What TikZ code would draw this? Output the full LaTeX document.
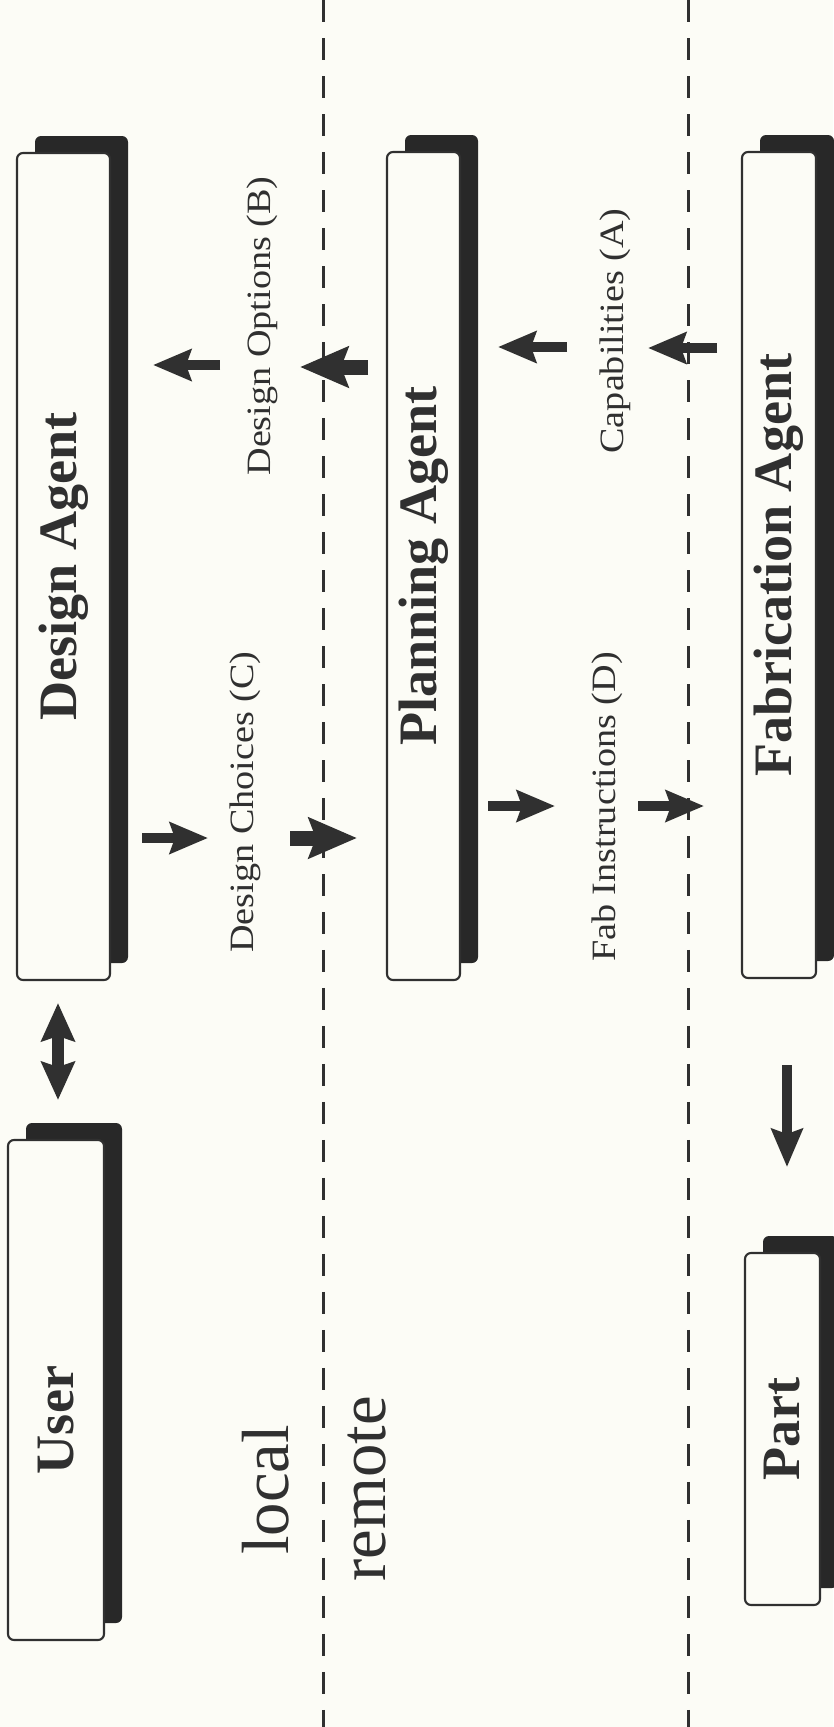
\documentclass[tikz,border=0pt]{standalone}
\usepackage{fontspec}
\usepackage{graphicx}
\setmainfont{Liberation Serif}
\newfontfamily\msgfont[FakeStretch=1.12]{Liberation Serif}
\usetikzlibrary{arrows.meta,shadows}

\definecolor{paper}{RGB}{252,252,246}
\definecolor{ink}{RGB}{48,48,48}
\definecolor{shade}{RGB}{40,40,40}

\begin{document}
\begin{tikzpicture}[x=0.1mm, y=-0.1mm,
    agent/.style={draw=ink, line width=0.6pt, fill=paper, rounded corners=0.6mm,
        drop shadow={shadow xshift=1.8mm, shadow yshift=1.7mm, fill=shade, opacity=1},
        inner sep=0pt, font=\fontsize{15.4}{18}\selectfont\bfseries, text=ink},
    msg/.style={font=\msgfont\fontsize{9.7}{11}\selectfont, text=ink},
    side/.style={font=\fontsize{19}{22}\selectfont, text=ink},
    flow/.style={-{Stealth[length=3.8mm, width=3.1mm, inset=0.5mm]}, line width=1mm, draw=ink},
    bigflow/.style={-{Stealth[length=4.8mm, width=4mm, inset=0.7mm]}, line width=1.5mm, draw=ink},
    divider/.style={draw=ink, line width=0.3mm, dash pattern=on 2.2mm off 1.6mm}]

    % 背景
    \useasboundingbox[fill=paper] (0,0) rectangle (833,1727);

    % 分隔线
    \coordinate (locTop) at (323,0);
    \coordinate (locBot) at (323,1727);
    \coordinate (fabTop) at (688,0);
    \coordinate (fabBot) at (688,1727);
    \draw[divider] (locTop) -- (locBot);
    \draw[divider] (fabTop) -- (fabBot);

    % 代理框
    \node[agent, minimum width=9.3mm, minimum height=82.7mm] (design) at (63.5,566.5)
        {\rotatebox{90}{Design Agent}};
    \node[agent, minimum width=7.3mm, minimum height=82.8mm] (planning) at (423.5,566)
        {\rotatebox{90}{Planning Agent}};
    \node[agent, minimum width=7.4mm, minimum height=82.6mm] (fabrication) at (779,565)
        {\rotatebox{90}{Fabrication Agent}};
    \node[agent, minimum width=9.6mm, minimum height=50mm] (user) at (56,1390)
        {\rotatebox{90}{User\hspace{6mm}}};
    \node[agent, minimum width=7.5mm, minimum height=35.2mm] (part) at (782.5,1429)
        {\rotatebox{90}{Part}};

    % 消息标签
    \node[msg] (options) at (262,326) {\rotatebox{90}{Design Options (B)}};
    \node[msg] (choices) at (245,802) {\rotatebox{90}{Design Choices (C)}};
    \node[msg] (capabilities) at (615,331) {\rotatebox{90}{Capabilities (A)}};
    \node[msg] (instructions) at (607,807) {\rotatebox{90}{Fab Instructions (D)}};

    \node[side] (local) at (266,1490) {\rotatebox{90}{local}};
    \node[side] (remote) at (367,1489) {\rotatebox{90}{remote}};

    % 箭头端点
    \coordinate (optA) at (220,365);  \coordinate (optAtip) at (153,365);
    \coordinate (optB) at (368,367);  \coordinate (optBtip) at (300,367);
    \coordinate (capA) at (567,347);  \coordinate (capAtip) at (498,347);
    \coordinate (capB) at (717,348);  \coordinate (capBtip) at (648,348);
    \coordinate (choA) at (142,838);  \coordinate (choAtip) at (208,838);
    \coordinate (choB) at (290,838);  \coordinate (choBtip) at (357,838);
    \coordinate (insA) at (488,806);  \coordinate (insAtip) at (555,806);
    \coordinate (insB) at (638,806);  \coordinate (insBtip) at (704,806);
    \coordinate (talkTop) at (58,1003); \coordinate (talkBot) at (58,1100);
    \coordinate (make) at (787,1065); \coordinate (makeTip) at (787,1167);

    % 箭头
    \draw[flow] (optA) -- (optAtip);
    \draw[bigflow] (optB) -- (optBtip);
    \draw[flow] (capA) -- (capAtip);
    \draw[flow] (capB) -- (capBtip);
    \draw[flow] (choA) -- (choAtip);
    \draw[bigflow] (choB) -- (choBtip);
    \draw[flow] (insA) -- (insAtip);
    \draw[flow] (insB) -- (insBtip);
    \draw[{Stealth[length=3.8mm, width=3.3mm, inset=0.5mm]}-{Stealth[length=3.8mm, width=3.3mm, inset=0.5mm]},
          line width=1.2mm, draw=ink] (talkTop) -- (talkBot);
    \draw[flow] (make) -- (makeTip);

\end{tikzpicture}
\end{document}
